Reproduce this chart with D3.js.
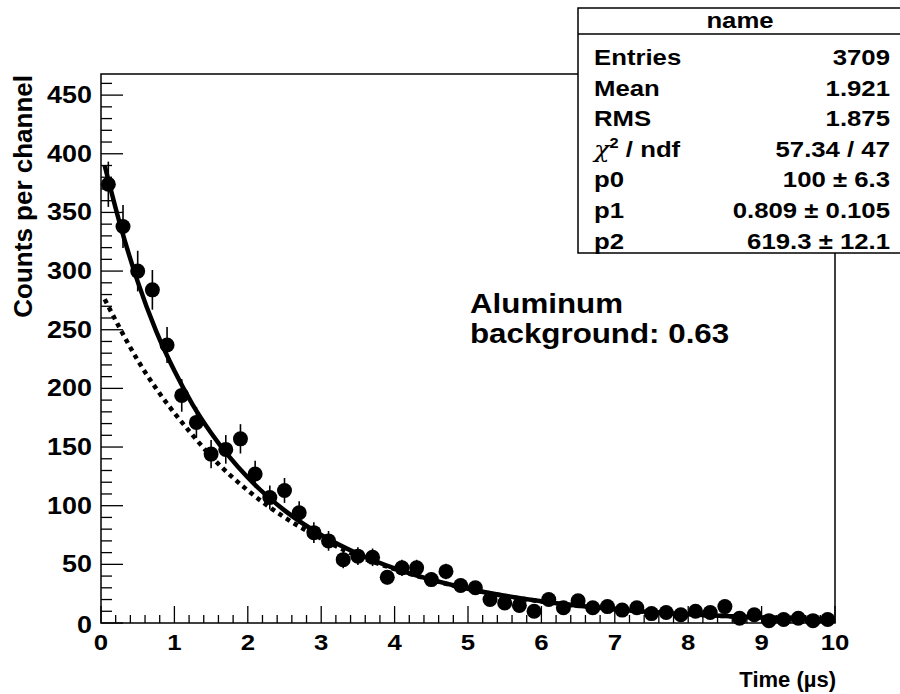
<!DOCTYPE html>
<html>
<head>
<meta charset="utf-8">
<script src="https://cdn.jsdelivr.net/npm/d3@7"></script>
<style>
  body { margin: 0; background: #fff; }
  svg { font-family: "Liberation Sans", Arial, sans-serif; font-weight: bold; }
</style>
</head>
<body>
<div id="chart"></div>
<script>
// bin centres (us) and counts
const binCenters = [0.1, 0.3, 0.5, 0.7, 0.9, 1.1, 1.3, 1.5, 1.7, 1.9,
    2.1, 2.3, 2.5, 2.7, 2.9, 3.1, 3.3, 3.5, 3.7, 3.9,
    4.1, 4.3, 4.5, 4.7, 4.9, 5.1, 5.3, 5.5, 5.7, 5.9,
    6.1, 6.3, 6.5, 6.7, 6.9, 7.1, 7.3, 7.5, 7.7, 7.9,
    8.1, 8.3, 8.5, 8.7, 8.9, 9.1, 9.3, 9.5, 9.7, 9.9];
const counts = [374, 338, 300, 284, 237, 194, 171, 144, 148, 157,
    127, 107, 113, 94, 77, 70, 54, 57, 56, 39,
    47, 47, 37, 44, 32, 30, 20, 17, 15, 10,
    20, 13, 19, 13, 14, 11, 13, 8, 9, 7,
    10, 9, 14, 4, 7, 2, 3, 4, 2, 3];
const errors = [19.3, 18.4, 17.3, 16.9, 15.4, 13.9, 13.1, 12, 12.2, 12.5,
    11.3, 10.3, 10.6, 9.7, 8.8, 8.4, 7.3, 7.5, 7.5, 6.2,
    6.9, 6.9, 6.1, 6.6, 5.7, 5.5, 4.5, 4.1, 3.9, 3.2,
    4.5, 3.6, 4.4, 3.6, 3.7, 3.3, 3.6, 2.8, 3, 2.6,
    3.2, 3, 3.7, 2, 2.6, 1.4, 1.7, 2, 1.4, 1.7];

// fit curves
const curveT = [0.05, 0.25, 0.5, 0.75, 1, 1.25, 1.5, 2, 2.5, 3, 3.5, 4, 5, 6, 7, 8, 9, 10];
const fitTotal = [390, 342, 291, 249, 215, 186, 162, 124, 96, 75, 59, 46.5, 29.2, 18.5, 11.7, 7.4, 4.7, 3.0];
const fitFree = [276, 252, 224, 200, 179, 160, 142, 113, 90, 72, 57, 46, 29, 18.4, 11.7, 7.4, 4.7, 3.0];

const xTicks = [0, 1, 2, 3, 4, 5, 6, 7, 8, 9, 10];
const yTicks = [0, 50, 100, 150, 200, 250, 300, 350, 400, 450];

const statsTitle = "name";
const statsRows = [
    ["Entries", "3709"],
    ["Mean", "1.921"],
    ["RMS", "1.875"],
    ["chi2", "57.34 / 47"],
    ["p0", "100 \u00b1 6.3"],
    ["p1", "0.809 \u00b1 0.105"],
    ["p2", "619.3 \u00b1 12.1"]
];

const margin = { top: 74, right: 65, bottom: 71, left: 101 };
const W = 900, H = 694;
const width = W - margin.left - margin.right;
const height = H - margin.top - margin.bottom;
const SX = 1.17; // the original's lettering is a bit wide

const svg = d3.select("#chart")
    .append("svg")
    .attr("width", W)
    .attr("height", H);

// text placed with a horizontal stretch
function label(parent, x, y, str, size, anchor, sx) {
    return parent.append("text")
        .attr("transform", `translate(${x},${y}) scale(${sx},1)`)
        .attr("text-anchor", anchor)
        .attr("font-size", size)
        .text(str);
}

const g = svg.append("g")
    .attr("transform", `translate(${margin.left},${margin.top})`);

const x = d3.scaleLinear().domain([0, 10]).range([0, width]);
const y = d3.scaleLinear().domain([0, 468]).range([height, 0]);

// frame
g.append("rect")
    .attr("width", width)
    .attr("height", height)
    .attr("fill", "none")
    .attr("stroke", "#000")
    .attr("stroke-width", 1.5);

// x ticks (ROOT style, inside the frame)
const xMinor = d3.range(0, 10.001, 0.2);
g.selectAll(".xminor")
    .data(xMinor)
    .enter()
    .append("line")
    .attr("x1", d => x(d)).attr("x2", d => x(d))
    .attr("y1", height).attr("y2", d => Math.abs(d - Math.round(d)) < 1e-6 ? height - 17 : height - 8)
    .attr("stroke", "#000")
    .attr("stroke-width", 1.3);

g.selectAll(".xlab")
    .data(xTicks)
    .enter()
    .append("text")
    .attr("transform", d => `translate(${x(d)},${height + 27}) scale(${SX},1)`)
    .attr("text-anchor", "middle")
    .attr("font-size", 22)
    .text(d => d);

const yMinor = d3.range(0, 468, 10);
g.selectAll(".yminor")
    .data(yMinor)
    .enter()
    .append("line")
    .attr("x1", 0)
    .attr("x2", d => d % 50 === 0 ? 22 : 11)
    .attr("y1", d => y(d)).attr("y2", d => y(d))
    .attr("stroke", "#000")
    .attr("stroke-width", 1.3);

g.selectAll(".ylab")
    .data(yTicks)
    .enter()
    .append("text")
    .attr("transform", d => `translate(-9,${y(d) + (d === 0 ? 10 : 8)}) scale(${SX},1)`)
    .attr("text-anchor", "end")
    .attr("font-size", 23)
    .text(d => d);

// axis titles
label(svg, margin.left + width + 1, 687, "Time  (\u00b5s)", 22, "end", 1.0);

svg.append("text")
    .attr("transform", `translate(32,75) rotate(-90)`)
    .attr("text-anchor", "end")
    .attr("font-size", 26)
    .text("Counts per channel");

// fit curves
const line = d3.line()
    .x((d, i) => x(curveT[i]))
    .y(d => y(d))
    .curve(d3.curveMonotoneX);

g.append("path")
    .attr("d", line(fitFree))
    .attr("fill", "none")
    .attr("stroke", "#000")
    .attr("stroke-width", 4.5)
    .attr("stroke-dasharray", "4.5 4.5");

g.append("path")
    .attr("d", line(fitTotal))
    .attr("fill", "none")
    .attr("stroke", "#000")
    .attr("stroke-width", 4.5);

// data points with sqrt(N) errors
g.selectAll(".err")
    .data(counts)
    .enter()
    .append("line")
    .attr("x1", (d, i) => x(binCenters[i]))
    .attr("x2", (d, i) => x(binCenters[i]))
    .attr("y1", (d, i) => y(Math.max(0, d - errors[i])))
    .attr("y2", (d, i) => y(d + errors[i]))
    .attr("stroke", "#000")
    .attr("stroke-width", 1.6);

g.selectAll(".pt")
    .data(counts)
    .enter()
    .append("circle")
    .attr("cx", (d, i) => x(binCenters[i]))
    .attr("cy", d => y(d))
    .attr("r", 7.5)
    .attr("fill", "#000");

// annotation
label(svg, 470, 313, "Aluminum", 27, "start", 1.16);
label(svg, 470, 343, "background: 0.63", 27, "start", 1.16);

// stats box
const box = svg.append("g");
box.append("rect")
    .attr("x", 578).attr("y", 8)
    .attr("width", 340).attr("height", 245)
    .attr("fill", "#fff")
    .attr("stroke", "#000")
    .attr("stroke-width", 1.5);
box.append("line")
    .attr("x1", 578).attr("x2", 900)
    .attr("y1", 34).attr("y2", 34)
    .attr("stroke", "#000")
    .attr("stroke-width", 1.5);
label(box, 740, 28, statsTitle, 22, "middle", SX);

statsRows.forEach((r, i) => {
    const yy = 65 + i * 30.6;
    const t = label(box, 594, yy, "", 22, "start", SX);
    if (r[0] === "chi2") {
        t.append("tspan").attr("font-family", "DejaVu Serif").attr("font-style", "italic").attr("font-weight", "normal").text("\u03c7");
        t.append("tspan").attr("font-size", 14).attr("dy", -9).text("2");
        t.append("tspan").attr("dy", 9).text(" / ndf");
    } else {
        t.text(r[0]);
    }
    label(box, 890, yy, r[1], 22, "end", SX);
});
</script>
</body>
</html>
